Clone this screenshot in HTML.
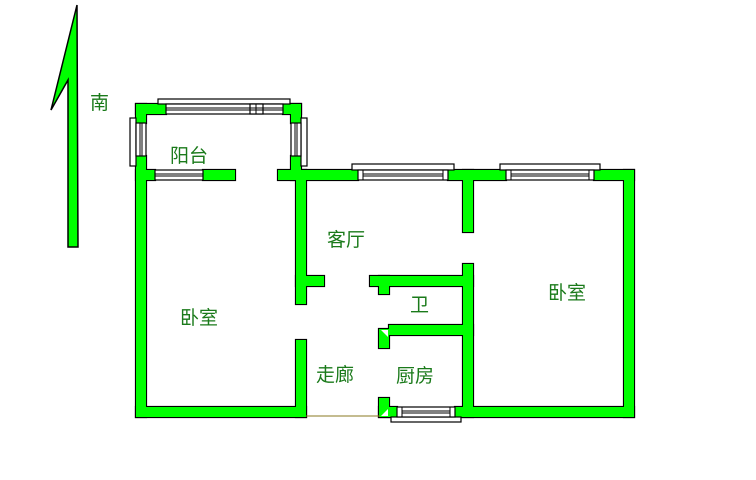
<!DOCTYPE html>
<html><head><meta charset="utf-8"><style>
html,body{margin:0;padding:0;background:#fff;}
svg{display:block}
text{font-family:"Liberation Sans","Noto Sans CJK SC",sans-serif;font-size:19px;fill:#1a7a1a;}
</style></head><body>
<svg width="756" height="480" viewBox="0 0 756 480" xmlns="http://www.w3.org/2000/svg">
<defs>
<g id="w">
<rect x="136" y="104" width="30" height="10"/>
<rect x="136" y="104" width="10" height="19"/>
<rect x="283" y="104" width="18" height="10"/>
<rect x="291" y="104" width="10" height="19"/>
<rect x="136" y="156" width="10" height="261"/>
<rect x="136" y="170" width="19" height="10"/>
<rect x="203" y="170" width="32" height="10"/>
<rect x="278" y="170" width="80" height="10"/>
<rect x="291" y="156" width="10" height="24"/>
<rect x="136" y="407" width="170" height="10"/>
<rect x="296" y="170" width="10" height="134"/>
<rect x="296" y="276" width="28" height="10"/>
<rect x="296" y="340" width="10" height="77"/>
<rect x="448" y="170" width="58" height="10"/>
<rect x="594" y="170" width="40" height="10"/>
<rect x="624" y="170" width="10" height="247"/>
<rect x="463" y="170" width="10" height="62"/>
<rect x="463" y="264" width="10" height="153"/>
<rect x="370" y="276" width="103" height="10"/>
<rect x="379" y="276" width="10" height="18"/>
<rect x="389" y="325" width="84" height="10"/>
<rect x="379" y="329" width="10" height="19"/>
<rect x="379" y="398" width="10" height="19"/>
<rect x="379" y="407" width="18" height="10"/>
<rect x="455" y="407" width="179" height="10"/>
</g>
</defs>
<polygon points="77,5 78,247 68,247 68,80 51,110" fill="#00ff00" stroke="#000" stroke-width="1.5"/>
<use href="#w" fill="#00ff00" stroke="#000" stroke-width="2.2"/>
<use href="#w" fill="#00ff00"/>
<polygon points="381,330 388,330 388,337" fill="#fff"/>
<polygon points="381,416 388,409 388,416" fill="#fff"/>
<g fill="#fff" stroke="#000" stroke-width="1.2">
<rect x="158" y="99" width="132" height="5"/>
<rect x="166" y="104" width="117" height="10"/>
<rect x="250" y="104" width="13" height="10"/>
<rect x="130" y="118" width="6" height="48"/>
<rect x="136" y="123" width="10" height="33"/>
<rect x="301" y="118" width="6" height="48"/>
<rect x="291" y="123" width="10" height="33"/>
<rect x="155" y="170" width="48" height="10"/>
<rect x="352" y="164" width="102" height="6"/>
<rect x="358" y="170" width="90" height="10"/>
<rect x="500" y="164" width="100" height="6"/>
<rect x="506" y="170" width="88" height="10"/>
<rect x="391" y="417" width="70" height="5"/>
<rect x="397" y="407" width="58" height="10"/>
</g>
<g stroke="#000" stroke-width="1">
<line x1="166" y1="108" x2="283" y2="108"/><line x1="166" y1="110" x2="283" y2="110"/>
<line x1="140" y1="123" x2="140" y2="156"/><line x1="142" y1="123" x2="142" y2="156"/>
<line x1="295" y1="123" x2="295" y2="156"/><line x1="297" y1="123" x2="297" y2="156"/>
<line x1="155" y1="174" x2="203" y2="174"/><line x1="155" y1="176" x2="203" y2="176"/>
<line x1="363" y1="174" x2="443" y2="174"/><line x1="363" y1="176" x2="443" y2="176"/>
<line x1="511" y1="174" x2="589" y2="174"/><line x1="511" y1="176" x2="589" y2="176"/>
<line x1="402" y1="411" x2="450" y2="411"/><line x1="402" y1="413" x2="450" y2="413"/>
<line x1="363" y1="170" x2="363" y2="180"/><line x1="443" y1="170" x2="443" y2="180"/>
<line x1="511" y1="170" x2="511" y2="180"/><line x1="589" y1="170" x2="589" y2="180"/>
<line x1="402" y1="407" x2="402" y2="417"/><line x1="450" y1="407" x2="450" y2="417"/>
<line x1="256" y1="104" x2="256" y2="114"/>
</g>
<line x1="306" y1="416" x2="380" y2="416" stroke="#8a7a20" stroke-width="1"/>
<text x="90" y="109">南</text>
<text x="170" y="162">阳台</text>
<text x="327" y="246">客厅</text>
<text x="180" y="324">卧室</text>
<text x="410" y="311">卫</text>
<text x="316" y="381">走廊</text>
<text x="396" y="382">厨房</text>
<text x="548" y="299">卧室</text>
</svg>
</body></html>
